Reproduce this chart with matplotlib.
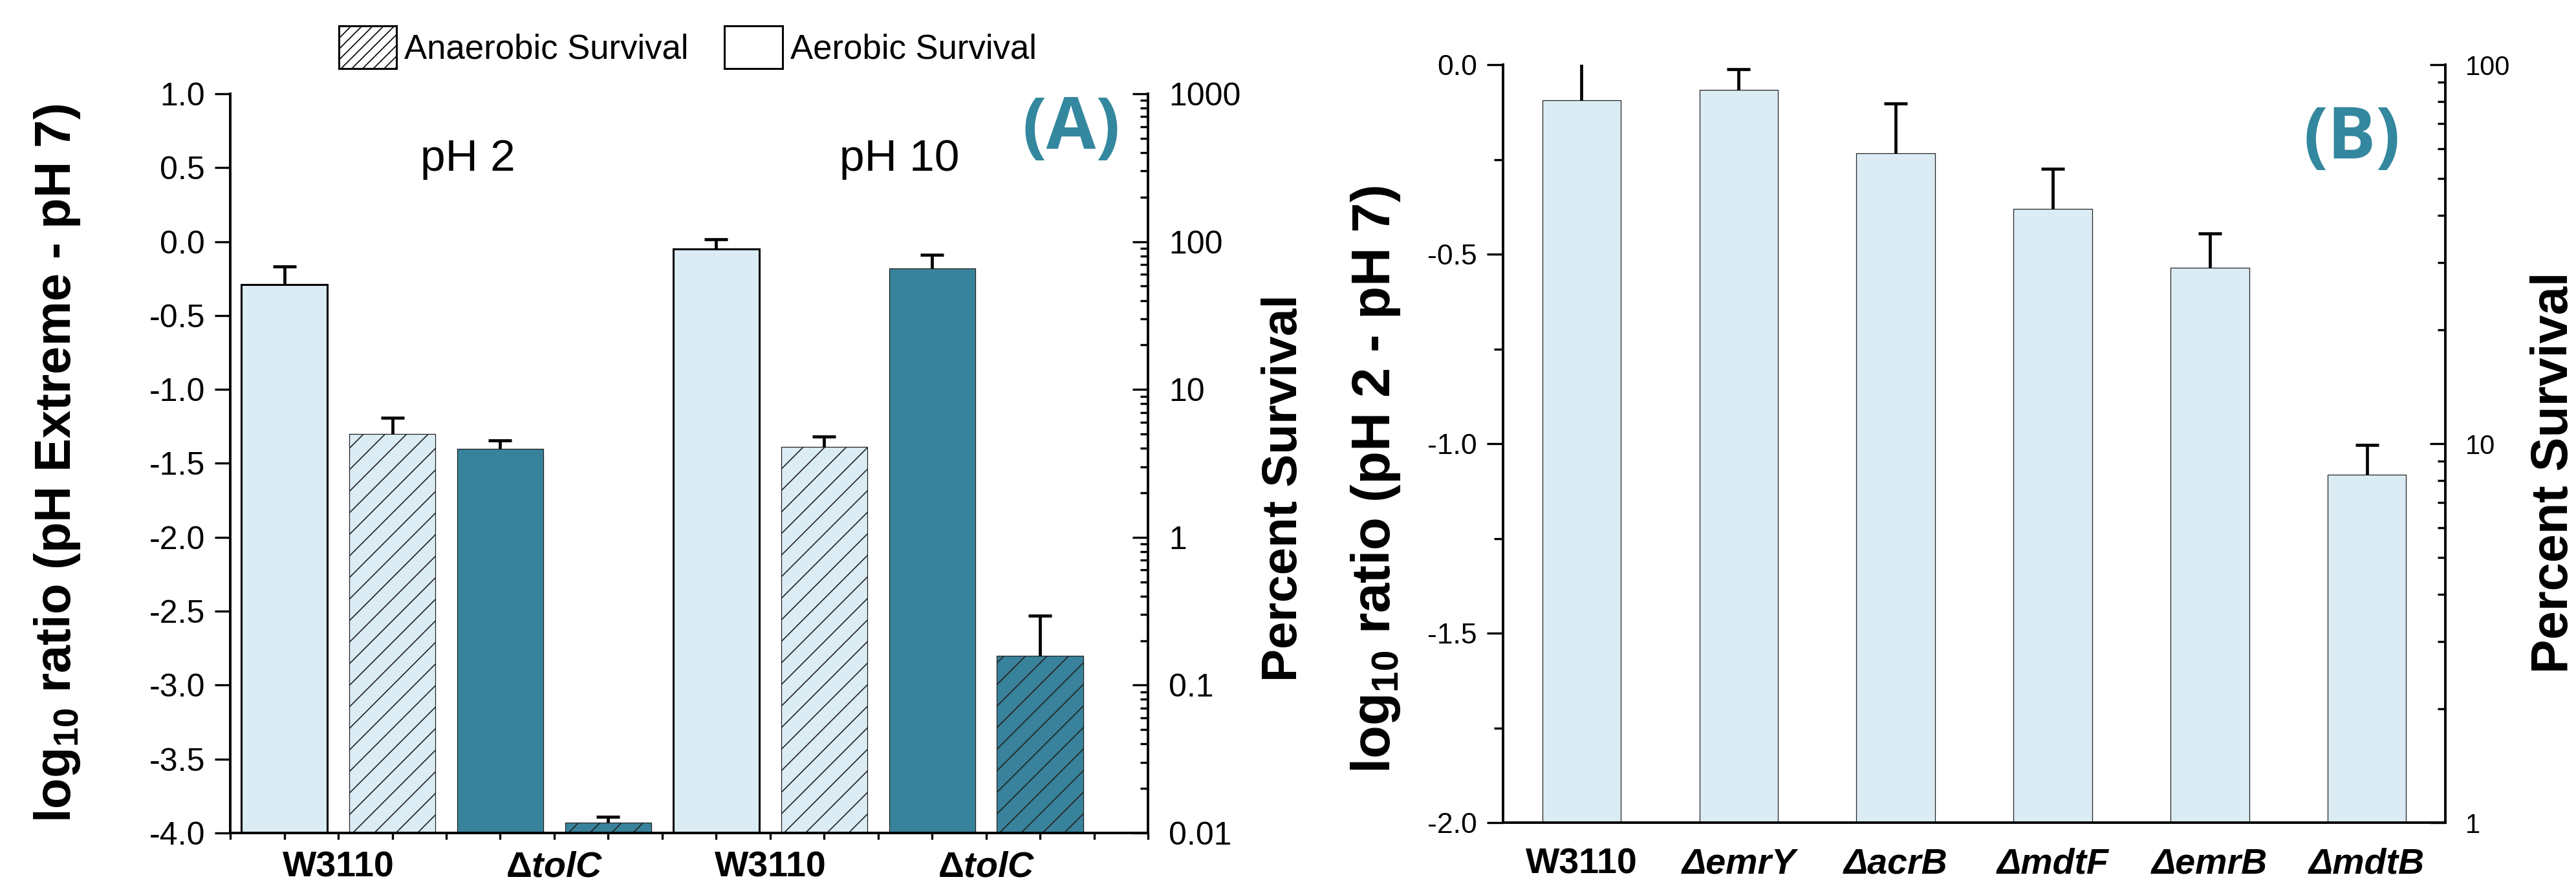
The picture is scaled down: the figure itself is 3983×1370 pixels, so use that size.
import numpy as np
import matplotlib
matplotlib.use('Agg')
import matplotlib.pyplot as plt
from matplotlib.patches import Patch
from matplotlib.ticker import FixedLocator, MultipleLocator, LogLocator, NullFormatter, FormatStrFormatter

plt.rcParams['font.family'] = ['Liberation Sans', 'DejaVu Sans']
plt.rcParams['mathtext.fontset'] = 'custom'
plt.rcParams['mathtext.rm'] = 'Liberation Sans:bold'
plt.rcParams['mathtext.it'] = 'Liberation Sans:italic:bold'
plt.rcParams['mathtext.bf'] = 'Liberation Sans:bold'
plt.rcParams['axes.unicode_minus'] = False
plt.rcParams['hatch.linewidth'] = 1.2

# ---------------- data: panel A ----------------
a_values = [-0.29, -1.30, -1.40, -3.93, -0.05, -1.39, -0.18, -2.80]
a_errors = [0.12, 0.11, 0.055, 0.04, 0.065, 0.07, 0.09, 0.27]
a_strain_labels = ['W3110', r'$\Delta tolC$', 'W3110', r'$\Delta tolC$']
a_conditions = ['pH 2', 'pH 10']
a_left_ticks = [-4.0, -3.5, -3.0, -2.5, -2.0, -1.5, -1.0, -0.5, 0.0, 0.5, 1.0]
a_right_ticks = [0.01, 0.1, 1, 10, 100, 1000]
a_right_labels = ['0.01', '0.1', '1', '10', '100', '1000']
legend_labels = ['Anaerobic Survival', 'Aerobic Survival']

# ---------------- data: panel B ----------------
b_strains = ['W3110', 'ΔemrY', 'ΔacrB', 'ΔmdtF', 'ΔemrB', 'ΔmdtB']
b_values = [-0.094, -0.067, -0.233, -0.381, -0.535, -1.082]
b_errors = [0.10, 0.055, 0.13, 0.107, 0.09, 0.078]
b_left_ticks = [-2.0, -1.5, -1.0, -0.5, 0.0]
b_right_ticks = [1, 10, 100]
b_right_labels = ['1', '10', '100']

# ---------------- styles ----------------
LIGHT = '#DBECF4'
DARK = '#39829B'
TEAL_TXT = '#33879E'
a_faces = [LIGHT, LIGHT, DARK, DARK, LIGHT, LIGHT, DARK, DARK]
a_hatches = ['', '/', '', '/', '', '/', '', '/']
a_edgew = [2.2, 0.9, 0.9, 0.9, 2.2, 0.9, 0.9, 0.9]
a_edgec = ['black', '#222222', '#222222', '#222222', 'black', '#222222', '#222222', '#222222']
b_label_styles = ['normal', 'italic', 'italic', 'italic', 'italic', 'italic']

A_FLOOR, A_TOP = -4.0, 1.0
B_FLOOR, B_TOP = -2.0, 0.0
SPINE_W = 2.8
TICK_W = 2.4

fig = plt.figure(figsize=(39.83, 13.70), dpi=100)


def upper_errorbars(ax, x, vals, errs):
    eb = ax.errorbar(x, vals, yerr=[np.zeros(len(vals)), errs], fmt='none',
                     ecolor='black', elinewidth=3.4, capsize=13, capthick=3.4, zorder=4)
    for cl in eb[1]:
        if np.allclose(np.asarray(cl.get_ydata(), dtype=float), np.asarray(vals, dtype=float)):
            cl.set_visible(False)
    return eb


# ================= Panel A =================
axA = fig.add_axes([0.0894, 0.0599, 0.3563, 0.8343])
xA = np.arange(1, len(a_values) + 1)
barsA = axA.bar(xA, np.array(a_values) - A_FLOOR, bottom=A_FLOOR, width=0.8, zorder=2)
for p, fc, h, lw, ec in zip(barsA, a_faces, a_hatches, a_edgew, a_edgec):
    p.set_facecolor(fc)
    p.set_hatch(h)
    p.set_linewidth(lw)
    p.set_edgecolor(ec)
upper_errorbars(axA, xA, a_values, a_errors)

axA.set_xlim(0.5, len(a_values) + 1.0)
axA.set_ylim(A_FLOOR, A_TOP)
axA.set_yticks(a_left_ticks)
axA.yaxis.set_major_formatter(FormatStrFormatter('%.1f'))
group_centers = xA[0::2] + 0.5
axA.set_xticks(group_centers)
axA.set_xticklabels(a_strain_labels, fontsize=40, fontweight='bold')
axA.xaxis.set_minor_locator(FixedLocator(np.arange(0.5, len(a_values) + 1.01, 0.5)))
axA.tick_params(axis='x', which='both', direction='out', length=7, width=TICK_W, pad=13)
axA.tick_params(axis='y', which='major', direction='out', length=17, width=TICK_W,
                pad=11, labelsize=36)
for s in ['top', 'right']:
    axA.spines[s].set_visible(False)
for s in ['left', 'bottom']:
    axA.spines[s].set_linewidth(SPINE_W)

axA2 = axA.twinx()
axA2.set_yscale('log')
axA2.set_ylim(10 ** (A_FLOOR + 2), 10 ** (A_TOP + 2))
axA2.yaxis.set_major_locator(FixedLocator(a_right_ticks))
axA2.set_yticklabels(a_right_labels)
axA2.yaxis.set_minor_locator(LogLocator(base=10, subs=np.arange(2, 10)))
axA2.yaxis.set_minor_formatter(NullFormatter())
axA2.tick_params(axis='y', which='major', direction='in', length=17, width=TICK_W,
                 pad=23, labelsize=36)
axA2.tick_params(axis='y', which='minor', direction='in', length=9, width=TICK_W)
for s in ['top', 'left', 'bottom']:
    axA2.spines[s].set_visible(False)
axA2.spines['right'].set_linewidth(SPINE_W)

# condition labels
for i, cond in enumerate(a_conditions):
    cx = xA[4 * i:4 * i + 4].mean() + 0.2
    axA.text(cx, 0.48, cond, ha='center', va='baseline', fontsize=50)

fig.text(0.0221, 0.477, r'log$_{10}$ ratio (pH Extreme - pH 7)', rotation=90,
         ha='center', va='center', fontsize=56, fontweight='bold')
fig.text(0.4985, 0.449, 'Percent Survival', rotation=90,
         ha='center', va='center', fontsize=55, fontweight='bold')
fig.text(0.416, 0.853, '(A)', ha='center', va='center', fontsize=80,
         fontweight='bold', color=TEAL_TXT, family='Open Sans')

handles = [Patch(facecolor='white', edgecolor='black', hatch='//', linewidth=2.2),
           Patch(facecolor='white', edgecolor='black', linewidth=2.2)]
fig.legend(handles=handles, labels=legend_labels, loc='center',
           bbox_to_anchor=(0.2669, 0.9467), ncol=2, frameon=False, fontsize=38,
           handlelength=1.69, handleheight=1.55, handletextpad=0.23, columnspacing=1.06)

# ================= Panel B =================
axB = fig.add_axes([0.5835, 0.0715, 0.3658, 0.8555])
xB = np.arange(1, len(b_values) + 1)
barsB = axB.bar(xB, np.array(b_values) - B_FLOOR, bottom=B_FLOOR, width=0.5,
                color=LIGHT, edgecolor='#222222', linewidth=0.9, zorder=2)
upper_errorbars(axB, xB, b_values, b_errors)
axB.set_xlim(0.5, len(b_values) + 0.5)
axB.set_ylim(B_FLOOR, B_TOP)
axB.set_yticks(b_left_ticks)
axB.yaxis.set_major_formatter(FormatStrFormatter('%.1f'))
axB.yaxis.set_minor_locator(MultipleLocator(0.25))
axB.set_xticks(xB)
axB.set_xticklabels(b_strains, fontsize=40, fontweight='bold')
for lbl, st in zip(axB.get_xticklabels(), b_label_styles):
    lbl.set_fontstyle(st)
axB.tick_params(axis='x', which='both', length=0, pad=28)
axB.tick_params(axis='y', which='major', direction='out', length=18, width=TICK_W,
                pad=11, labelsize=32)
axB.tick_params(axis='y', which='minor', direction='out', length=10, width=TICK_W)
for s in ['top', 'right']:
    axB.spines[s].set_visible(False)
for s in ['left', 'bottom']:
    axB.spines[s].set_linewidth(SPINE_W)

axB2 = axB.twinx()
axB2.set_yscale('log')
axB2.set_ylim(10 ** (B_FLOOR + 2), 10 ** (B_TOP + 2))
axB2.yaxis.set_major_locator(FixedLocator(b_right_ticks))
axB2.set_yticklabels(b_right_labels)
axB2.yaxis.set_minor_locator(LogLocator(base=10, subs=np.arange(2, 10)))
axB2.yaxis.set_minor_formatter(NullFormatter())
axB2.tick_params(axis='y', which='major', direction='in', length=17, width=TICK_W,
                 pad=22, labelsize=30)
axB2.tick_params(axis='y', which='minor', direction='in', length=9, width=TICK_W)
for s in ['top', 'left', 'bottom']:
    axB2.spines[s].set_visible(False)
axB2.spines['right'].set_linewidth(SPINE_W)

fig.text(0.534, 0.4584, r'log$_{10}$ ratio (pH 2 - pH 7)', rotation=90,
         ha='center', va='center', fontsize=60, fontweight='bold')
fig.text(0.9915, 0.467, 'Percent Survival', rotation=90,
         ha='center', va='center', fontsize=57, fontweight='bold')
fig.text(0.913, 0.842, '(B)', ha='center', va='center', fontsize=80,
         fontweight='bold', color=TEAL_TXT, family='Open Sans')

fig.savefig('out.png', dpi=100)
